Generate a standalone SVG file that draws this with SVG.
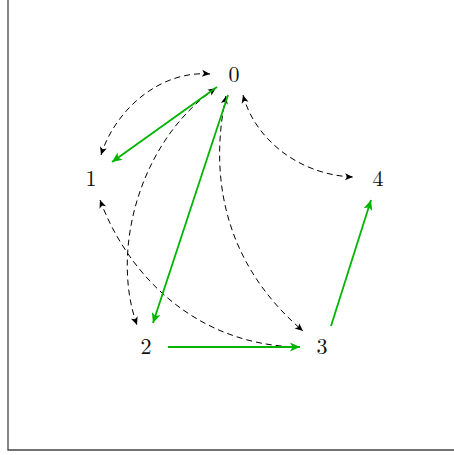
<svg xmlns="http://www.w3.org/2000/svg" width="454" height="455" viewBox="0 0 454 455">
<style>
.lbl{font-family:"Latin Modern Roman","Liberation Serif","DejaVu Serif",serif;font-size:22px;fill:#111;text-anchor:middle}
.d{fill:none;stroke:#000;stroke-width:1;stroke-dasharray:6,4}
.g{fill:none;stroke:#00b400;stroke-width:1.8}
.frame{fill:none;stroke:#444;stroke-width:1.3}
</style>
<defs>
<marker id="ak" markerUnits="userSpaceOnUse" markerWidth="12" markerHeight="10" viewBox="-9 -5 10 10" refX="0" refY="0" orient="auto-start-reverse">
<path d="M-8,-3.5 L0,0 L-8,3.5 L-6,0 Z" fill="#000"/>
</marker>
<marker id="ag" markerUnits="userSpaceOnUse" markerWidth="14" markerHeight="12" viewBox="-11 -6 12 12" refX="0" refY="0" orient="auto">
<path d="M-10,-4.5 L0,0 L-10,4.5 L-7.5,0 Z" fill="#00b400"/>
</marker>
</defs>
<path class="frame" d="M8,0 L8,450 L454,450"/>
<g id="connectors">
<path class="d" d="M210,74 C160,70 115,110 101,155" marker-start="url(#ak)" marker-end="url(#ak)"/>
<path class="d" d="M216,88 C140,140 110,250 137,325" marker-start="url(#ak)" marker-end="url(#ak)"/>
<path class="d" d="M226,96 C210,170 220,260 303,331" marker-start="url(#ak)" marker-end="url(#ak)"/>
<path class="d" d="M243,95 C255,140 300,175 353,177" marker-start="url(#ak)" marker-end="url(#ak)"/>
<path class="d" d="M100,200 C130,280 200,345 298,347" marker-start="url(#ak)"/>
<path class="g" d="M217,87 L112,162" marker-end="url(#ag)"/>
<path class="g" d="M228,95 L153,323" marker-end="url(#ag)"/>
<path class="g" d="M168,347 L300,347" marker-end="url(#ag)"/>
<path class="g" d="M331,326 L371,200" marker-end="url(#ag)"/>
</g>
<g id="n0"><text class="lbl" x="234" y="82">0</text></g>
<g id="n1"><text class="lbl" x="91" y="186">1</text></g>
<g id="n2"><text class="lbl" x="146" y="354">2</text></g>
<g id="n3"><text class="lbl" x="322" y="354">3</text></g>
<g id="n4"><text class="lbl" x="378" y="186">4</text></g>
</svg>
